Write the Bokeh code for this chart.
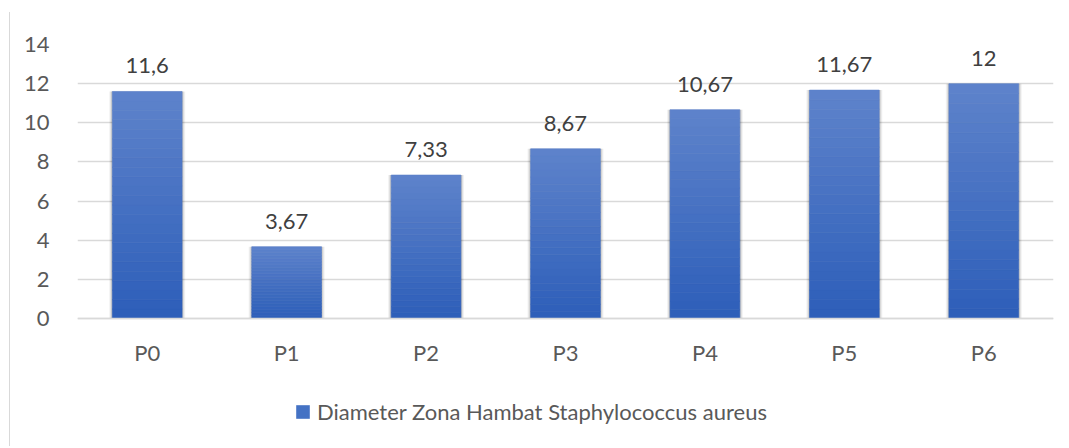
from bokeh.plotting import figure
from bokeh.models import ColumnDataSource, Legend, LegendItem, FixedTicker, Range1d, LabelSet, Span
from bokeh.embed import file_html
from bokeh.resources import INLINE
from bokeh.core.properties import value

categories = ["P0", "P1", "P2", "P3", "P4", "P5", "P6"]
values = [11.6, 3.67, 7.33, 8.67, 10.67, 11.67, 12]
labels = ["11,6", "3,67", "7,33", "8,67", "10,67", "11,67", "12"]
series_name = "Diameter Zona Hambat Staphylococcus aureus"
y_ticks = [0, 2, 4, 6, 8, 10, 12, 14]

FONT = "Lato"
FS = "22px"
top_rgb = (0x5E, 0x83, 0xCB)
bot_rgb = (0x2D, 0x5E, 0xB9)

# frame: top at 45px (14), zero at 319px, frame bottom at 445px (room for x labels & legend)
y_lo = -(445 - 319) * 14 / (319 - 45)
p = figure(width=1051, height=434, x_range=categories, y_range=Range1d(y_lo, 14),
           output_backend="svg", toolbar_location=None,
           min_border_left=67, min_border_right=8, min_border_top=32, min_border_bottom=2)
p.outline_line_color = None
p.styles = {"border-left": "1px solid #D9D9D9", "margin-left": "9px", "margin-top": "12px"}

# soft shadow
for w, a in ((0.545, 0.05), (0.53, 0.08), (0.515, 0.12)):
    p.vbar(x=categories, top=values, width=w, fill_color="#000000", fill_alpha=a, line_color=None)

# gradient bars: slices of each bar
N = 24
for k in range(N):
    f0, f1 = k / N, (k + 1) / N
    t = (k + 0.5) / N
    c = tuple(int(round(bot_rgb[i] + (top_rgb[i] - bot_rgb[i]) * t)) for i in range(3))
    col = "#%02x%02x%02x" % c
    src = ColumnDataSource(dict(x=categories,
                                bottom=[v * f0 for v in values],
                                top=[v * f1 for v in values]))
    p.vbar(x="x", bottom="bottom", top="top", width=0.5, source=src,
           fill_color=col, line_color=col, line_width=0.6)

# legend proxy
proxy = p.vbar(x=[categories[0]], top=[0], bottom=[0], width=0.5,
               fill_color="#4472C4", line_color=None)

# value labels
lsrc = ColumnDataSource(dict(x=categories, y=values, t=labels))
p.add_layout(LabelSet(x="x", y="y", text="t", source=lsrc, text_align="center",
                      text_baseline="bottom", y_offset=18, text_font=value(FONT),
                      text_font_size=FS, text_color="#404040"))

# category axis drawn at zero
p.xaxis.visible = False
p.add_layout(Span(location=0, dimension="width", line_color="#D9D9D9", line_width=1.5))
p.text(x=categories, y=[0] * len(categories), text=categories, text_align="center",
       text_baseline="middle", y_offset=34, text_font=value(FONT), text_font_size=FS,
       text_color="#595959")

p.yaxis.ticker = FixedTicker(ticks=y_ticks)
p.ygrid.ticker = FixedTicker(ticks=y_ticks)
p.ygrid.grid_line_color = "#D9D9D9"
p.ygrid.grid_line_width = 1.5
p.xgrid.grid_line_color = None

p.yaxis.axis_line_color = None
p.yaxis.major_tick_line_color = None
p.yaxis.minor_tick_line_color = None
p.yaxis.major_label_standoff = 22
p.yaxis.major_label_text_font = FONT
p.yaxis.major_label_text_font_size = FS
p.yaxis.major_label_text_color = "#595959"

legend = Legend(items=[LegendItem(label=series_name, renderers=[proxy])],
                location=(217, 19), orientation="horizontal",
                label_text_font=FONT, label_text_font_size=FS,
                label_text_color="#595959", glyph_width=17, glyph_height=17,
                label_standoff=6, border_line_color=None, background_fill_alpha=0,
                margin=0, padding=0)
p.add_layout(legend, "center")

open("out.html", "w").write(file_html(p, INLINE))
